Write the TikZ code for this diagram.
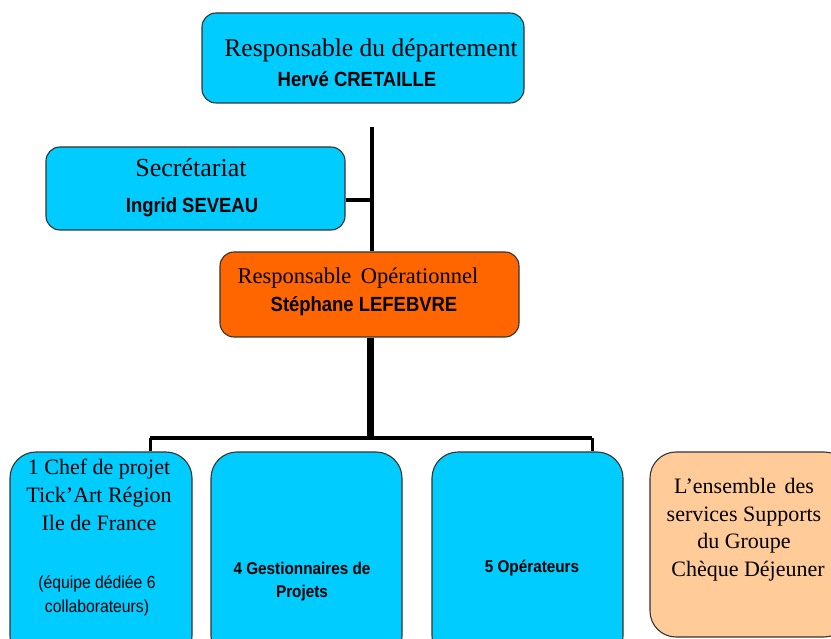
\documentclass[tikz,border=0pt]{standalone}
\usepackage{fontspec}
\setmainfont{Liberation Serif}
\setsansfont{Liberation Sans}
\definecolor{cyanbox}{HTML}{00CCFF}
\definecolor{orangebox}{HTML}{FF6600}
\definecolor{peachbox}{HTML}{FFCC99}
\newcommand{\narrowtxt}[1]{\scalebox{0.9}[1]{#1}}
\begin{document}
\begin{tikzpicture}[x=1pt,y=-1pt,
  boxbase/.style={draw=black!80, line width=1.1pt, inner sep=0pt},
  boxsmall/.style={boxbase, rounded corners=14pt},
  boxtall/.style={boxbase, rounded corners=26pt},
  conn/.style={line width=4pt, black},
  txt/.style={inner sep=0pt, anchor=base},
  serifA/.style={txt, font=\fontsize{25.5}{30}\selectfont},
  serifS/.style={txt, font=\fontsize{26}{30}\selectfont},
  serifB/.style={txt, font=\fontsize{22.5}{27}\selectfont},
  serifC/.style={txt, font=\fontsize{22}{25}\selectfont},
  sansbA/.style={txt, font=\fontsize{20.5}{24}\selectfont\sffamily\bfseries},
  sansbB/.style={txt, font=\fontsize{17}{20}\selectfont\sffamily\bfseries},
  sansC/.style={txt, font=\fontsize{17.5}{20}\selectfont\sffamily},
]
\clip (0,0) rectangle (831,639);
\useasboundingbox (0,0) rectangle (831,639);
\fill[white] (0,0) rectangle (831,639);

% boxes
\node[boxsmall, fill=cyanbox, minimum width=322pt, minimum height=90pt] (top) at (363,58) {};
\node[boxsmall, fill=cyanbox, minimum width=299pt, minimum height=83pt] (sec) at (195.5,188.5) {};
\node[boxsmall, fill=orangebox, minimum width=299pt, minimum height=85pt] (ro) at (369.5,294.5) {};
\node[boxtall, fill=cyanbox, minimum width=182pt, minimum height=210pt] (b1) at (101,557) {};
\node[boxtall, fill=cyanbox, minimum width=191pt, minimum height=210pt] (b2) at (306.5,557) {};
\node[boxtall, fill=cyanbox, minimum width=191pt, minimum height=210pt] (b3) at (527.5,557) {};
\node[boxtall, fill=peachbox, minimum width=200pt, minimum height=185pt] (b4) at (750,544.5) {};

% connectors
\coordinate (tl) at (372,127);
\coordinate (sj) at (372,200);
\coordinate (bj) at (370,438);
\coordinate (dl) at (150,438);
\coordinate (dr) at (592,438);
\draw[conn] (tl) -- (tl |- ro.north);
\draw[conn] (sec.east |- sj) -- (sj);
\draw[line width=7pt] (ro.south -| bj) -- (bj);
\draw[line width=4.5pt] (dl) -- (dr);
\draw[line width=3pt] (dl) -- (dl |- b1.north);
\draw[line width=3pt] (dr) -- (dr |- b3.north);

% texts
\node[serifA] (t1) at (371,57) {Responsable du département};
\node[sansbA] (t2) at (357,87) {\narrowtxt{Hervé CRETAILLE}};
\node[serifS] (s1) at (191,177) {Secrétariat};
\node[sansbA] (s2) at (192,213) {\narrowtxt{Ingrid SEVEAU}};
\node[serifB] (r1) at (358,284) {Responsable\hspace{4pt} Opérationnel};
\node[sansbA] (r2) at (364,312) {\narrowtxt{Stéphane LEFEBVRE}};
\node[serifC] (c1) at (99,475) {1 Chef de projet};
\node[serifC] (c2) at (99,502.5) {Tick’Art Région};
\node[serifC] (c3) at (99,530) {Ile de France};
\node[sansC] (c4) at (97,588) {\narrowtxt{(équipe dédiée 6}};
\node[sansC] (c5) at (97,612) {\narrowtxt{collaborateurs)}};
\node[sansbB] (g1) at (302,574) {\narrowtxt{4 Gestionnaires de}};
\node[sansbB] (g2) at (302,597) {\narrowtxt{Projets}};
\node[sansbB] (o1) at (532,572) {\narrowtxt{5 Opérateurs}};
\node[serifC] (e1) at (744,493) {L’ensemble\hspace{3pt} des};
\node[serifC] (e2) at (744,521) {services Supports};
\node[serifC] (e3) at (744,548) {du Groupe};
\node[serifC] (e4) at (748,576) {Chèque Déjeuner};
\end{tikzpicture}
\end{document}
